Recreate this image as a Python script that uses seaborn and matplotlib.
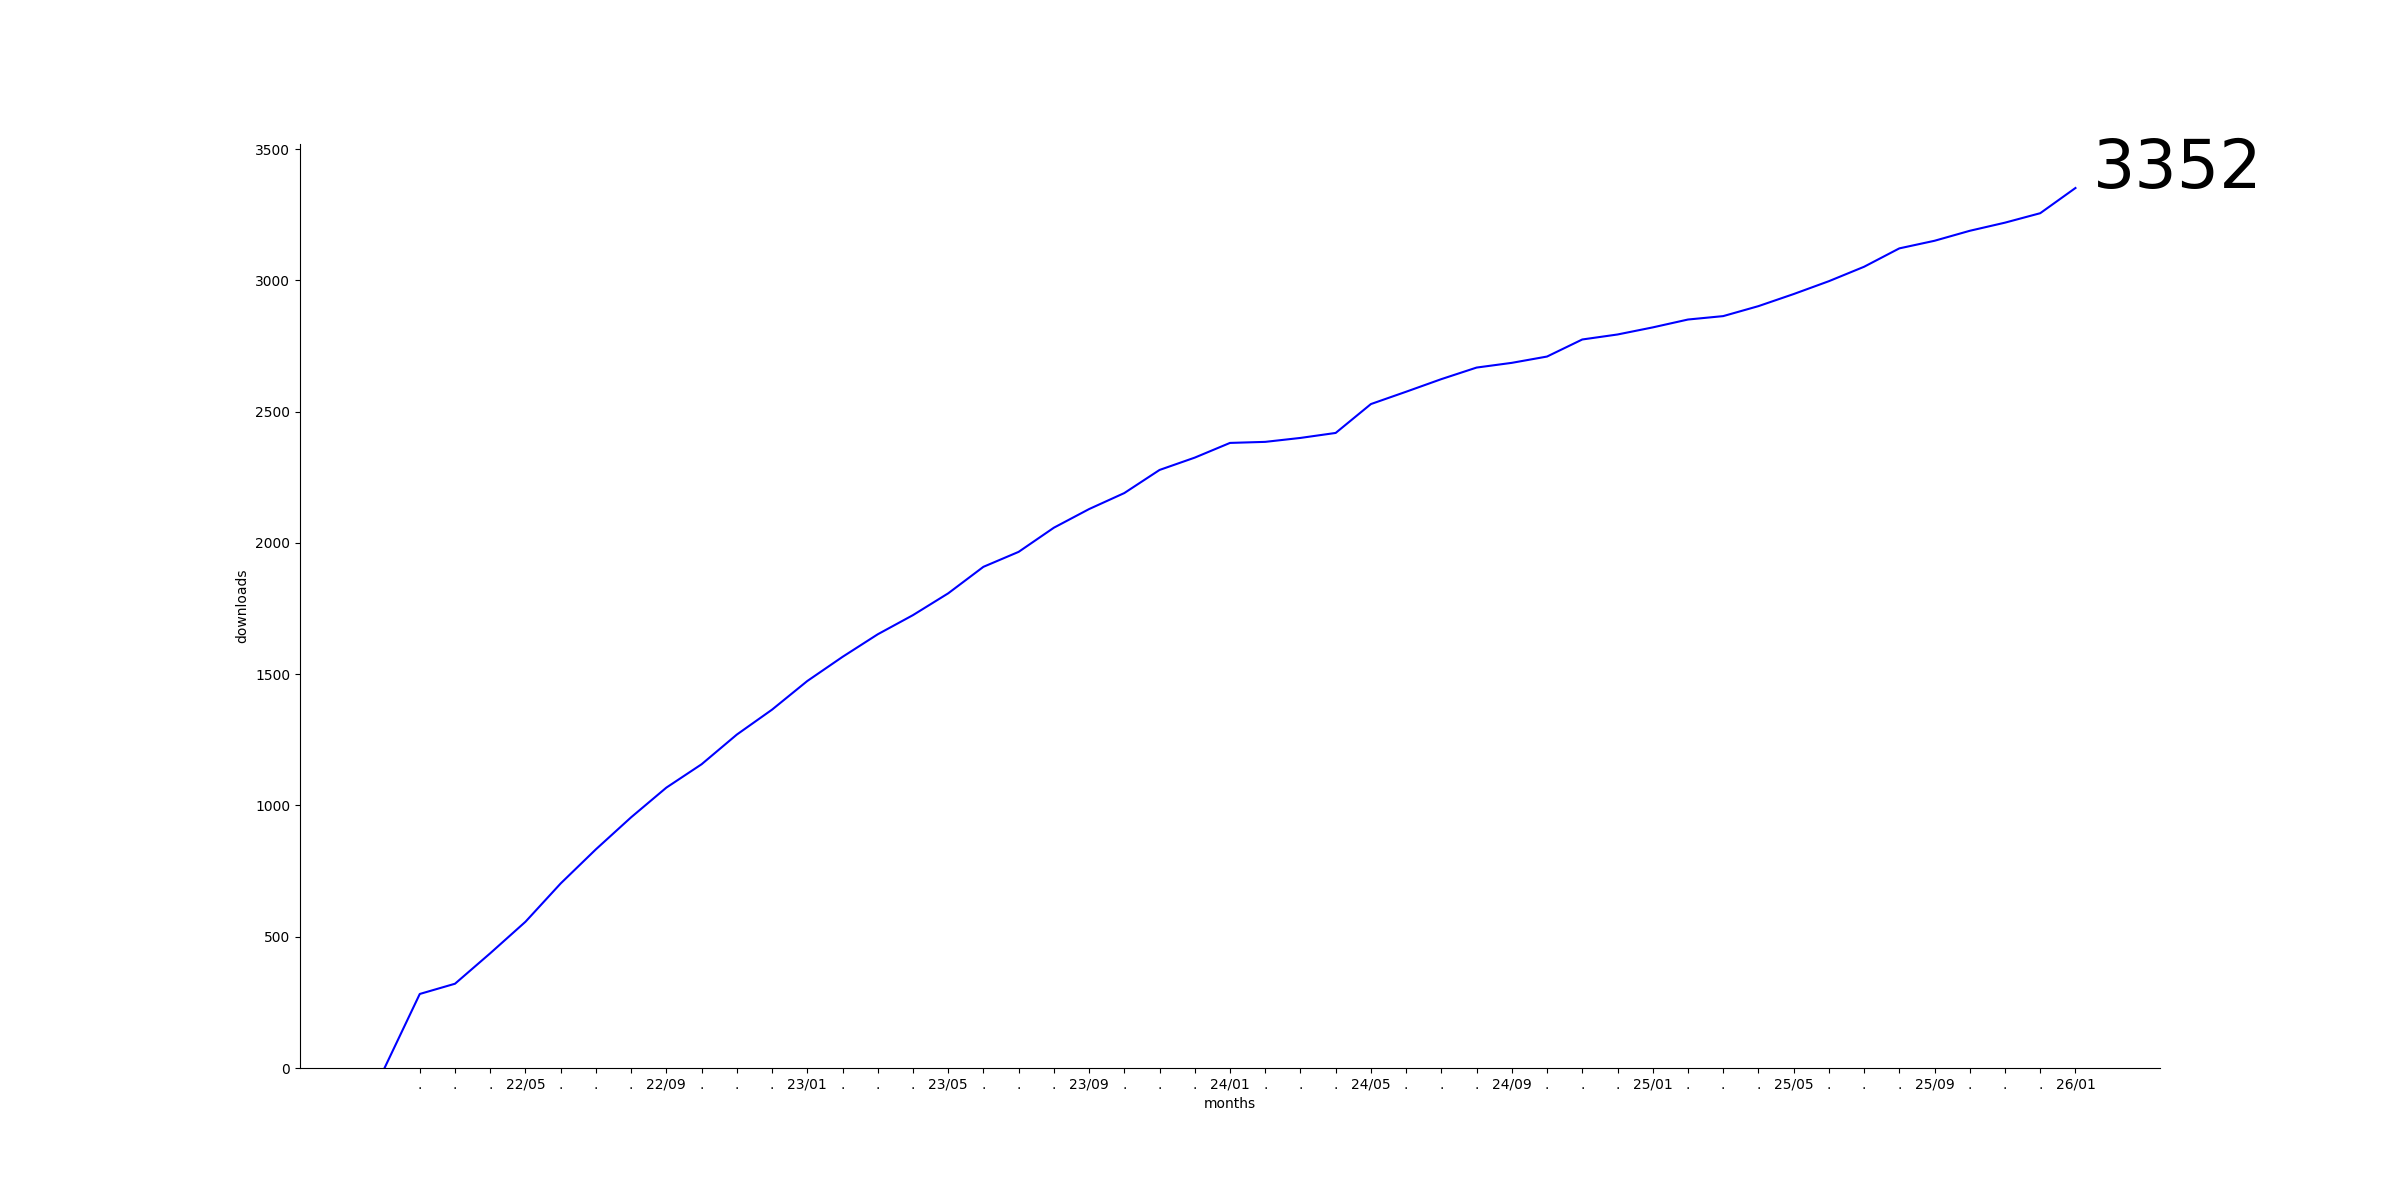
import matplotlib
matplotlib.use("Agg")
import matplotlib.pyplot as plt
import pandas as pd
import seaborn as sns

# monthly cumulative downloads, 22/01 .. 26/01
months = [
    "22/01", "22/02", "22/03", "22/04", "22/05", "22/06", "22/07", "22/08",
    "22/09", "22/10", "22/11", "22/12", "23/01", "23/02", "23/03", "23/04",
    "23/05", "23/06", "23/07", "23/08", "23/09", "23/10", "23/11", "23/12",
    "24/01", "24/02", "24/03", "24/04", "24/05", "24/06", "24/07", "24/08",
    "24/09", "24/10", "24/11", "24/12", "25/01", "25/02", "25/03", "25/04",
    "25/05", "25/06", "25/07", "25/08", "25/09", "25/10", "25/11", "25/12",
    "26/01",
]
downloads = [
    0, 282, 321, 437, 557, 703, 833, 955, 1068, 1157,
    1270, 1365, 1474, 1566, 1652, 1725, 1808, 1909, 1966, 2058,
    2129, 2190, 2278, 2325, 2381, 2385, 2400, 2419, 2529, 2576,
    2624, 2668, 2686, 2710, 2775, 2794, 2821, 2851, 2864, 2902,
    2948, 2997, 3052, 3122, 3151, 3189, 3220, 3256, 3352,
]

df = pd.DataFrame({"idx": range(len(months)), "downloads": downloads})

fig, ax = plt.subplots(figsize=(24, 12), dpi=100)
sns.lineplot(data=df, x="idx", y="downloads", color="blue", linewidth=1.5, ax=ax)

# ticks for every month after the first, labelled every 4th month
tick_pos = list(range(1, len(months)))
tick_lbl = [months[i] if (i - 4) % 4 == 0 else "." for i in tick_pos]
ax.set_xticks(tick_pos)
ax.set_xticklabels(tick_lbl)
ax.set_ylim(bottom=0)

ax.set_xlabel("months")
ax.set_ylabel("downloads")

ax.text(df["idx"].iloc[-1] + 0.5, downloads[-1], str(downloads[-1]), fontsize=48)

sns.despine(ax=ax)
fig.savefig("out.png", dpi=100)
